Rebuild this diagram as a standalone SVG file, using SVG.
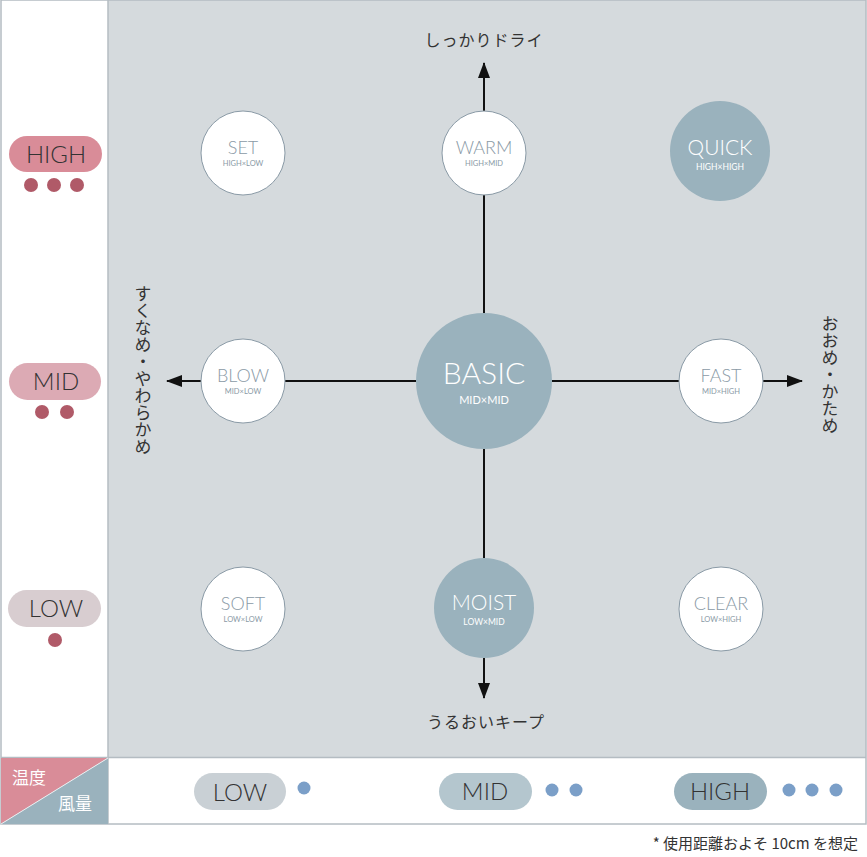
<svg xmlns="http://www.w3.org/2000/svg" width="867" height="857" viewBox="0 0 867 857">
<style>
.jp{font-family:"Noto Sans CJK JP","Noto Sans",sans-serif;fill:#333;}
.wc{fill:#fff;stroke:#8a9aa6;stroke-width:1;}
.fc{fill:#9ab2bd;}
.t1{font-family:Lato,"Open Sans","Liberation Sans",sans-serif;font-size:18px;fill:#8a9aa6;text-anchor:middle;font-weight:300;}
.t2{font-family:Lato,"Open Sans","Liberation Sans",sans-serif;font-size:7.5px;fill:#8a9aa6;text-anchor:middle;}
.pt{font-family:Lato,"Open Sans","Liberation Sans",sans-serif;font-size:24px;fill:#333;text-anchor:middle;font-weight:300;}
.rd{fill:#b05a68;}
.bd{fill:#7b9fc8;}
.ax{stroke:#111;stroke-width:2;fill:none;}
</style>
<defs>
<marker id="ah" viewBox="0 0 16 12" refX="15" refY="6" markerWidth="16" markerHeight="12" markerUnits="userSpaceOnUse" orient="auto"><path d="M0,0 L16,6 L0,12 z" fill="#111"/></marker>
</defs>
<rect x="0" y="0" width="867" height="857" fill="#fff"/>
<rect x="108" y="0" width="758" height="757" fill="#d5dadd"/>
<rect x="1" y="0" width="865" height="824" fill="none" stroke="#b4bcc2" stroke-width="1.5"/>
<line x1="108" y1="0" x2="108" y2="824" stroke="#b4bcc2" stroke-width="1.5"/>
<line x1="1" y1="757.5" x2="866" y2="757.5" stroke="#b4bcc2" stroke-width="1.5"/>
<g id="corner">
<polygon points="1,758 108,758 1,824" fill="#d98c98"/>
<polygon points="108,758 108,824 1,824" fill="#9ab2bd"/>
<line x1="1" y1="824" x2="108" y2="758" stroke="#e8eef0" stroke-width="1"/>
<text x="12" y="784" class="jp" style="fill:#fff;font-size:17px">温度</text>
<text x="58" y="810" class="jp" style="fill:#fff;font-size:17px">風量</text>
</g>
<g id="connectors">
<line x1="484" y1="313" x2="484" y2="63" class="ax" marker-end="url(#ah)"/>
<line x1="484" y1="449" x2="484" y2="698" class="ax" marker-end="url(#ah)"/>
<line x1="416" y1="381" x2="167" y2="381" class="ax" marker-end="url(#ah)"/>
<line x1="552" y1="381" x2="802" y2="381" class="ax" marker-end="url(#ah)"/>
</g>
<g id="label-top"><text x="484" y="46" class="jp" text-anchor="middle" style="font-size:16px;letter-spacing:1px">しっかりドライ</text></g>
<g id="label-bottom"><text x="486" y="728" class="jp" text-anchor="middle" style="font-size:16px;letter-spacing:1px">うるおいキープ</text></g>
<g id="label-left"><text x="143" y="285" class="jp" style="font-size:17px;writing-mode:vertical-rl" text-anchor="start">すくなめ・やわらかめ</text></g>
<g id="label-right"><text x="830" y="315" class="jp" style="font-size:17px;writing-mode:vertical-rl" text-anchor="start">おおめ・かため</text></g>
<g id="set"><circle cx="243" cy="153" r="42" class="wc"/><text x="243" y="154" class="t1">SET</text><text x="243" y="166" class="t2">HIGH×LOW</text></g>
<g id="warm"><circle cx="484" cy="153" r="42" class="wc"/><text x="484" y="154" class="t1">WARM</text><text x="484" y="166" class="t2">HIGH×MID</text></g>
<g id="quick"><circle cx="720" cy="151" r="50" class="fc"/><text x="720" y="155" class="t1" style="fill:#fff;font-size:21px">QUICK</text><text x="720" y="170" class="t2" style="fill:#fff;font-size:8.5px">HIGH×HIGH</text></g>
<g id="blow"><circle cx="243" cy="381" r="42" class="wc"/><text x="243" y="382" class="t1">BLOW</text><text x="243" y="394" class="t2">MID×LOW</text></g>
<g id="basic"><circle cx="484" cy="381" r="68" class="fc"/><text x="484" y="384" class="t1" style="fill:#fff;font-size:30px">BASIC</text><text x="484" y="404" class="t2" style="fill:#fff;font-size:11px">MID×MID</text></g>
<g id="fast"><circle cx="721" cy="381" r="42" class="wc"/><text x="721" y="382" class="t1">FAST</text><text x="721" y="394" class="t2">MID×HIGH</text></g>
<g id="soft"><circle cx="243" cy="609" r="42" class="wc"/><text x="243" y="610" class="t1">SOFT</text><text x="243" y="622" class="t2">LOW×LOW</text></g>
<g id="moist"><circle cx="484" cy="608" r="50" class="fc"/><text x="484" y="610" class="t1" style="fill:#fff;font-size:21px">MOIST</text><text x="484" y="625" class="t2" style="fill:#fff;font-size:8.5px">LOW×MID</text></g>
<g id="clear"><circle cx="721" cy="609" r="42" class="wc"/><text x="721" y="610" class="t1">CLEAR</text><text x="721" y="622" class="t2">LOW×HIGH</text></g>
<g id="temp-high"><rect x="9" y="136" width="93" height="36" rx="18" fill="#d98c98"/><text x="56" y="163" class="pt">HIGH</text><circle cx="31" cy="185" r="7" class="rd"/><circle cx="54" cy="185" r="7" class="rd"/><circle cx="77" cy="185" r="7" class="rd"/></g>
<g id="temp-mid"><rect x="9" y="363" width="92" height="37" rx="18.5" fill="#dcaab4"/><text x="56" y="390" class="pt">MID</text><circle cx="42" cy="412" r="7" class="rd"/><circle cx="67" cy="412" r="7" class="rd"/></g>
<g id="temp-low"><rect x="8" y="590" width="93" height="37" rx="18.5" fill="#d8cdd0"/><text x="56" y="617" class="pt">LOW</text><circle cx="55" cy="640" r="7" class="rd"/></g>
<g id="wind-low"><rect x="194" y="773" width="92" height="37" rx="18.5" fill="#c9d0d5"/><text x="240" y="801" class="pt">LOW</text><circle cx="304" cy="788" r="6.5" class="bd"/></g>
<g id="wind-mid"><rect x="439" y="773" width="93" height="37" rx="18.5" fill="#b4c6ce"/><text x="485" y="800" class="pt">MID</text><circle cx="552" cy="790" r="6.5" class="bd"/><circle cx="576" cy="790" r="6.5" class="bd"/></g>
<g id="wind-high"><rect x="674" y="773" width="93" height="37" rx="18.5" fill="#9ab2bd"/><text x="720" y="800" class="pt">HIGH</text><circle cx="789" cy="790" r="6.5" class="bd"/><circle cx="812" cy="790" r="6.5" class="bd"/><circle cx="836" cy="790" r="6.5" class="bd"/></g>
<g id="note"><text x="858" y="849" class="jp" text-anchor="end" style="font-size:15px">* 使用距離およそ 10cm を想定</text></g>
</svg>
